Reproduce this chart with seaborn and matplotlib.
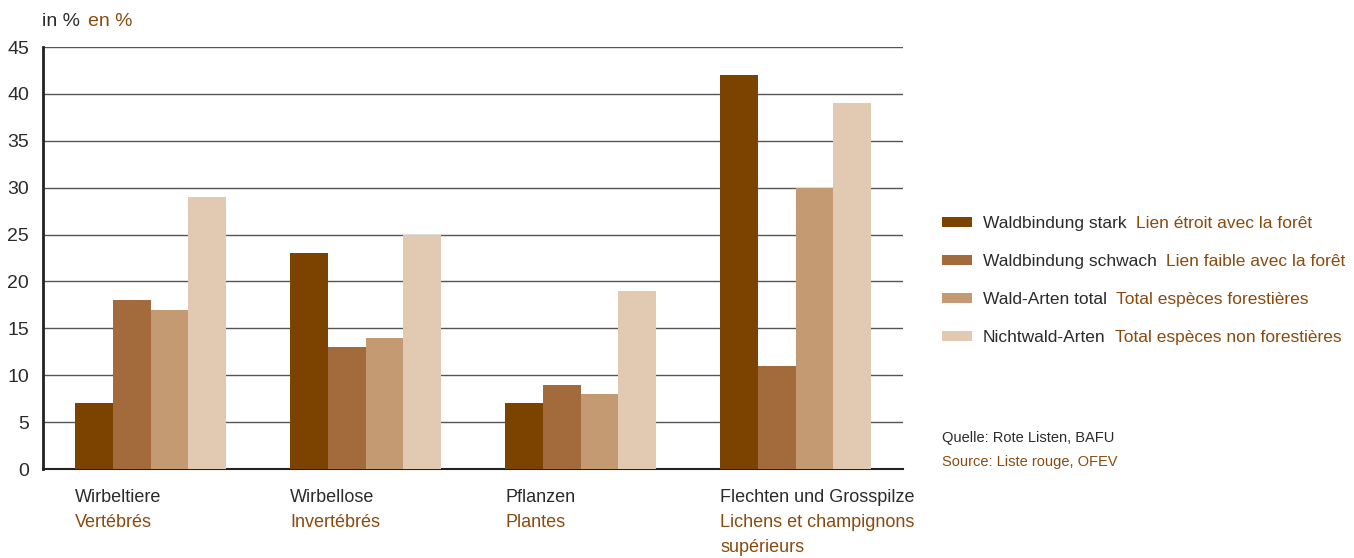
import matplotlib
matplotlib.use("Agg")
import matplotlib.pyplot as plt
import matplotlib.transforms as mtransforms
import seaborn as sns
import pandas as pd

groups_de = ["Wirbeltiere", "Wirbellose", "Pflanzen", "Flechten und Grosspilze"]
groups_fr = ["Vertébrés", "Invertébrés", "Plantes", "Lichens et champignons\nsupérieurs"]
series_de = ["Waldbindung stark", "Waldbindung schwach", "Wald-Arten total", "Nichtwald-Arten"]
series_fr = ["Lien étroit avec la forêt", "Lien faible avec la forêt",
             "Total espèces forestières", "Total espèces non forestières"]
stark = [7, 23, 7, 42]
schwach = [18, 13, 9, 11]
wald_total = [17, 14, 8, 30]
nichtwald = [29, 25, 19, 39]
colors = ["#7b4200", "#a36b3b", "#c49a73", "#e2cab2"]
dark = "#2b2b2b"
brown = "#8a4b0f"

sns.set_style("white")
plt.rcParams["font.family"] = ["Liberation Sans Narrow", "Liberation Sans", "DejaVu Sans"]

rows = []
for name, vals in zip(series_de, [stark, schwach, wald_total, nichtwald]):
    for g, v in zip(groups_de, vals):
        rows.append({"Gruppe": g, "Serie": name, "Wert": v})
df = pd.DataFrame(rows)

fig = plt.figure(figsize=(13.54, 5.58), dpi=100)
ax = fig.add_axes([43 / 1354, 1 - 469 / 558, 860 / 1354, 422 / 558])

sns.barplot(data=df, x="Gruppe", y="Wert", hue="Serie", palette=colors,
            width=0.7, gap=0, linewidth=0, saturation=1, ax=ax, zorder=3)

ax.set_ylim(0, 45)
ax.set_xlim(-0.5, 3.5)
ax.set_yticks(range(0, 46, 5))
ax.yaxis.grid(True, color="#555555", linewidth=1.0, zorder=0)
ax.set_axisbelow(True)
ax.tick_params(axis="y", length=0, pad=10, labelsize=14, labelcolor=dark)
ax.set_xticks([])
ax.set_xlabel("")
ax.set_ylabel("")
for s in ["top", "right"]:
    ax.spines[s].set_visible(False)
ax.spines["left"].set_color("#222222")
ax.spines["left"].set_linewidth(2)
ax.spines["bottom"].set_color("#222222")
ax.spines["bottom"].set_linewidth(1.5)

trans = mtransforms.blended_transform_factory(ax.transData, fig.transFigure)
for i, (de, fr) in enumerate(zip(groups_de, groups_fr)):
    ax.text(i - 0.35, 1 - 497 / 558, de, transform=trans, fontsize=13,
            color=dark, va="center", ha="left")
    ax.text(i - 0.35, 1 - 514 / 558, fr, transform=trans, fontsize=13,
            color=brown, va="top", ha="left", linespacing=1.6)

fig.text(42 / 1354, 1 - 21 / 558, "in %", fontsize=14, color=dark, va="center")
fig.text(88 / 1354, 1 - 21 / 558, "en %", fontsize=14, color=brown, va="center")

handles, _ = ax.get_legend_handles_labels()
leg = ax.legend(handles, series_de, loc="upper left",
                bbox_to_anchor=(942 / 1354, 1 - 216 / 558),
                bbox_transform=fig.transFigure, frameon=False, fontsize=12.5,
                borderpad=0, borderaxespad=0,
                handlelength=1.73, handleheight=0.5, handletextpad=0.63,
                labelspacing=1.32, labelcolor=dark)

fig.canvas.draw()
inv = fig.transFigure.inverted()
for t, fr in zip(leg.get_texts(), series_fr):
    bb = t.get_window_extent()
    x, y = inv.transform((bb.x1 + 9, (bb.y0 + bb.y1) / 2))
    fig.text(x, y, fr, fontsize=12.5, color=brown, va="center", ha="left")

fig.text(942 / 1354, 1 - 438 / 558, "Quelle: Rote Listen, BAFU", fontsize=10.5,
         color=dark, va="center")
fig.text(942 / 1354, 1 - 462 / 558, "Source: Liste rouge, OFEV", fontsize=10.5,
         color=brown, va="center")

fig.savefig("out.png", dpi=100)
